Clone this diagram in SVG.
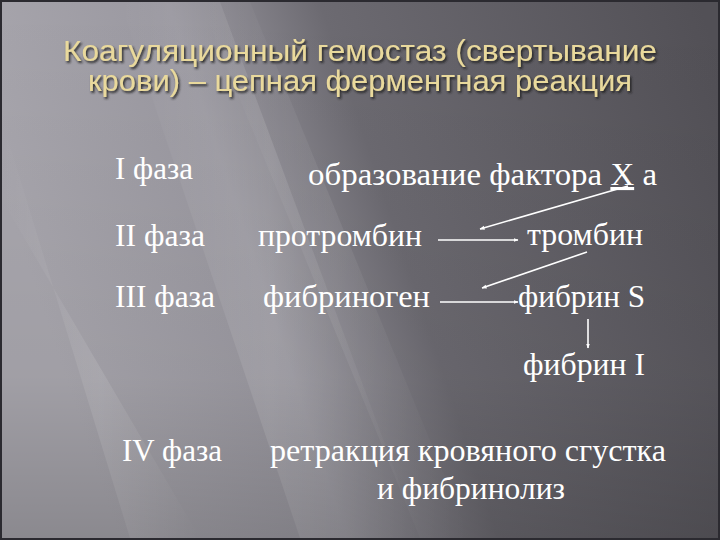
<svg xmlns="http://www.w3.org/2000/svg" width="720" height="540" viewBox="0 0 720 540">
<defs>
  <linearGradient id="bg" x1="0" y1="0.35" x2="1" y2="0.1">
    <stop offset="0" stop-color="#a9a7ae"/>
    <stop offset="0.3" stop-color="#9a98a0"/>
    <stop offset="0.5" stop-color="#6c6a71"/>
    <stop offset="1" stop-color="#525056"/>
  </linearGradient>
  <linearGradient id="streak" x1="0" y1="0" x2="1" y2="0">
    <stop offset="0" stop-color="#ffffff" stop-opacity="0"/>
    <stop offset="0.5" stop-color="#ffffff" stop-opacity="0.12"/>
    <stop offset="1" stop-color="#ffffff" stop-opacity="0"/>
  </linearGradient>
  <linearGradient id="shade" x1="0" y1="0" x2="0" y2="1">
    <stop offset="0" stop-color="#000" stop-opacity="0"/>
    <stop offset="0.7" stop-color="#000" stop-opacity="0.05"/>
    <stop offset="1" stop-color="#000" stop-opacity="0.18"/>
  </linearGradient>
  <filter id="tshadow" x="-5%" y="-20%" width="110%" height="160%">
    <feDropShadow dx="1.5" dy="2" stdDeviation="1.2" flood-color="#1a1a1a" flood-opacity="0.9"/>
  </filter>
  <marker id="ah" viewBox="0 0 10 10" refX="9" refY="5" markerWidth="5" markerHeight="5" orient="auto" markerUnits="userSpaceOnUse">
    <path d="M0,1 L10,5 L0,9 z" fill="#ffffff"/>
  </marker>
</defs>
<style>
  .title { font-family: "Liberation Sans", Arial, sans-serif; font-size: 29px; fill: #e9d99c; }
  .t { font-family: "Liberation Serif", "Times New Roman", serif; font-size: 31px; fill: #ffffff; }
  .conn line { stroke: #ffffff; stroke-width: 1.6; marker-end: url(#ah); }
</style>

<rect x="0" y="0" width="720" height="540" fill="#2b2a30"/>
<rect x="2" y="2" width="716" height="536" fill="url(#bg)"/>
<g>
  <polygon points="120,2 220,2 420,538 300,538" fill="url(#streak)"/>
  <polygon points="2,120 2,200 200,538 130,538" fill="url(#streak)"/>
  <polygon points="200,2 250,2 470,538 420,538" fill="url(#streak)" opacity="0.6"/>
</g>
<rect x="2" y="2" width="716" height="536" fill="url(#shade)"/>

<g id="title" filter="url(#tshadow)">
  <text class="title" x="360" y="61" text-anchor="middle" textLength="594" lengthAdjust="spacingAndGlyphs">Коагуляционный гемостаз (свертывание</text>
  <text class="title" x="360" y="91" text-anchor="middle" textLength="544" lengthAdjust="spacingAndGlyphs">крови) – цепная ферментная реакция</text>
</g>

<g id="phase1"><text class="t" x="115" y="179" textLength="78" lengthAdjust="spacingAndGlyphs">I фаза</text></g>
<g id="phase2"><text class="t" x="115" y="246" textLength="90" lengthAdjust="spacingAndGlyphs">II фаза</text></g>
<g id="phase3"><text class="t" x="115" y="307" textLength="100" lengthAdjust="spacingAndGlyphs">III фаза</text></g>
<g id="phase4"><text class="t" x="122" y="461" textLength="100" lengthAdjust="spacingAndGlyphs">IV фаза</text></g>

<g id="factorXa"><text class="t" x="308" y="185" textLength="349" lengthAdjust="spacingAndGlyphs">образование  фактора <tspan text-decoration="underline">Х</tspan> а</text></g>
<g id="prothrombin"><text class="t" x="258" y="246" textLength="164" lengthAdjust="spacingAndGlyphs">протромбин</text></g>
<g id="thrombin"><text class="t" x="527" y="245" textLength="116" lengthAdjust="spacingAndGlyphs">тромбин</text></g>
<g id="fibrinogen"><text class="t" x="263" y="307" textLength="167" lengthAdjust="spacingAndGlyphs">фибриноген</text></g>
<g id="fibrinS"><text class="t" x="518" y="307" textLength="127" lengthAdjust="spacingAndGlyphs">фибрин S</text></g>
<g id="fibrinI"><text class="t" x="523" y="375" textLength="122" lengthAdjust="spacingAndGlyphs">фибрин I</text></g>
<g id="retraction">
  <text class="t" x="270" y="461" textLength="396" lengthAdjust="spacingAndGlyphs">ретракция кровяного сгустка</text>
  <text class="t" x="377" y="499" textLength="188" lengthAdjust="spacingAndGlyphs">и фибринолиз</text>
</g>

<g id="connectors" class="conn">
  <line x1="628" y1="186" x2="480" y2="229"/>
  <line x1="438" y1="240" x2="518" y2="240"/>
  <line x1="587" y1="252" x2="482" y2="288"/>
  <line x1="440" y1="302" x2="518" y2="302"/>
  <line x1="588" y1="319" x2="588" y2="348"/>
</g>
</svg>
